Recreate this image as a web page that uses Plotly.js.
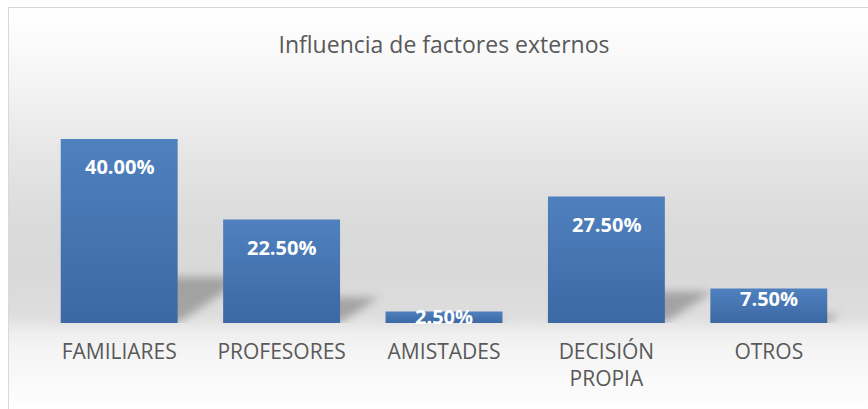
<!DOCTYPE html>
<html>
<head>
<meta charset="utf-8">
<script src="https://cdn.plot.ly/plotly-3.0.1.min.js"></script>
<style>
  html, body { margin: 0; padding: 0; background: #ffffff; }
  #wrap { position: relative; width: 868px; height: 409px; overflow: hidden; background: #ffffff; }
  #bg {
    position: absolute; left: 8px; top: 7px; width: 900px; height: 450px;
    border: 1px solid #d9d9d9; box-sizing: border-box;
    background: linear-gradient(to bottom,
      #ffffff 0px, #fafafa 40px, #efefef 100px, #e3e3e3 160px, #dadada 220px,
      #d9d9d9 265px, #dddddd 305px, #e4e4e4 315px, #efefef 325px, #f6f6f6 350px,
      #fcfcfc 390px, #ffffff 402px);
  }
  #chart { position: absolute; left: 0; top: 0; width: 868px; height: 409px; }
</style>
</head>
<body>
<div id="wrap">
  <div id="bg"></div>
  <div id="chart"></div>
</div>
<script>
// ---- data ----
const categories = ["FAMILIARES", "PROFESORES", "AMISTADES", "DECISIÓN<br>PROPIA", "OTROS"];
const percentValues = [40.0, 22.5, 2.5, 27.5, 7.5];
const chartTitle = "Influencia de factores externos";

// ---- layout constants ----
const W = 868, H = 409;
const M = { l: 38, r: 18, t: 93, b: 86 };
const yMax = 50;
const plotH = H - M.t - M.b;
const ppu = plotH / yMax;

const annotations = percentValues.map((v, i) => {
  const h = v * ppu;
  const off = h > 60 ? 27.5 : 5 + 0.196 * (h - 11.5);
  return {
    x: categories[i], y: v, xref: 'x', yref: 'y',
    text: v.toFixed(2) + '%', showarrow: false,
    yanchor: 'middle', xanchor: 'center', yshift: -off,
    font: { family: '"Open Sans", sans-serif', size: 20, color: '#ffffff', weight: 'bold' }
  };
});

const trace = {
  type: 'bar',
  x: categories,
  y: percentValues,
  marker: { color: '#4673b0', line: { width: 0 } },
  hoverinfo: 'skip'
};

const layout = {
  width: W, height: H,
  margin: M,
  paper_bgcolor: 'rgba(0,0,0,0)',
  plot_bgcolor: 'rgba(0,0,0,0)',
  showlegend: false,
  bargap: 0.28,
  title: {
    text: chartTitle,
    x: 0.5, xref: 'paper', xanchor: 'center',
    y: 1 - 45 / H, yref: 'container', yanchor: 'middle',
    font: { family: '"Open Sans", sans-serif', size: 23, color: '#595959' }
  },
  xaxis: {
    type: 'category',
    showgrid: false, zeroline: false, showline: false, ticks: '',
    tickfont: { family: '"Open Sans", sans-serif', size: 21, color: '#595959' },
    ticklabelstandoff: 14
  },
  yaxis: {
    visible: false, range: [0, yMax], showgrid: false, zeroline: false
  },
  annotations: annotations
};

Plotly.newPlot('chart', [trace], layout, { staticPlot: true, displayModeBar: false }).then(gd => {
  const svg = gd.querySelector('svg.main-svg');
  const NS = 'http://www.w3.org/2000/svg';
  let defs = svg.querySelector('defs');
  if (!defs) { defs = document.createElementNS(NS, 'defs'); svg.insertBefore(defs, svg.firstChild); }
  // gradient for bars
  const lg = document.createElementNS(NS, 'linearGradient');
  lg.setAttribute('id', 'barGrad');
  lg.setAttribute('x1', '0'); lg.setAttribute('y1', '0');
  lg.setAttribute('x2', '0'); lg.setAttribute('y2', '1');
  [['0', '#4f81bf'], ['1', '#3c68a3']].forEach(([o, c]) => {
    const s = document.createElementNS(NS, 'stop');
    s.setAttribute('offset', o); s.setAttribute('stop-color', c);
    lg.appendChild(s);
  });
  defs.appendChild(lg);
  // blur filter for shadows
  const f = document.createElementNS(NS, 'filter');
  f.setAttribute('id', 'shBlur');
  f.setAttribute('x', '-50%'); f.setAttribute('y', '-50%');
  f.setAttribute('width', '200%'); f.setAttribute('height', '200%');
  const gb = document.createElementNS(NS, 'feGaussianBlur');
  gb.setAttribute('stdDeviation', '4.5');
  f.appendChild(gb);
  defs.appendChild(f);

  const barLayer = svg.querySelector('.barlayer');
  const shadowG = document.createElementNS(NS, 'g');
  shadowG.setAttribute('filter', 'url(#shBlur)');
  barLayer.parentNode.insertBefore(shadowG, barLayer);

  svg.querySelectorAll('.barlayer .point path').forEach(p => {
    p.style.fill = 'url(#barGrad)';
    const b = p.getBBox();
    const x0 = b.x, x1 = b.x + b.width, yb = b.y + b.height;
    const sh = 0.25 * b.height;
    const dx = 1.5 * sh;
    const poly = document.createElementNS(NS, 'polygon');
    poly.setAttribute('points',
      `${x0},${yb} ${x1},${yb} ${x1 + dx},${yb - sh} ${x0 + dx},${yb - sh}`);
    poly.setAttribute('fill', 'rgba(0,0,0,0.26)');
    shadowG.appendChild(poly);
  });
});
</script>
</body>
</html>
